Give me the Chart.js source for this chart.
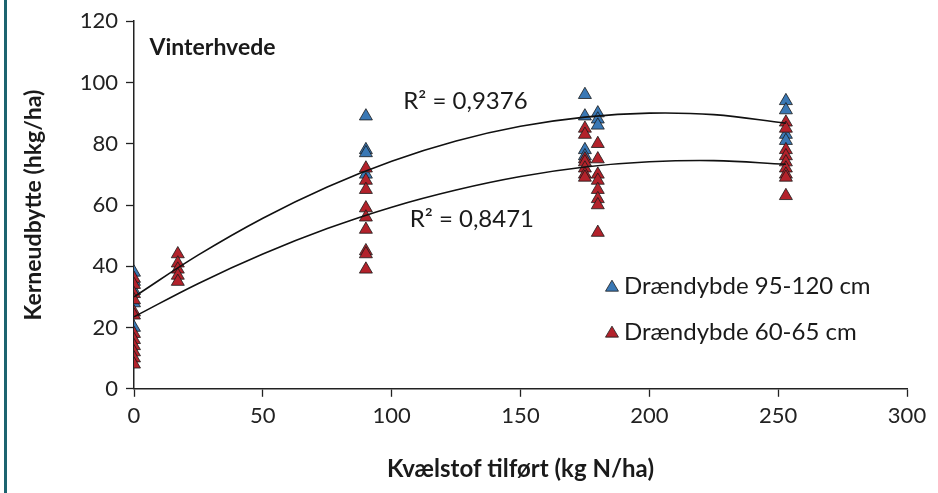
<!DOCTYPE html>
<html>
<head>
<meta charset="utf-8">
<script src="https://cdn.jsdelivr.net/npm/chart.js@4/dist/chart.umd.min.js"></script>
<style>
  html, body { margin: 0; padding: 0; background: #fff; }
  #wrap { position: relative; width: 938px; height: 493px; }
  #bar { position: absolute; left: 4px; top: 0; width: 3px; height: 493px; background: #1d6470; }
  canvas { position: absolute; left: 0; top: 0; }
</style>
</head>
<body>
<div id="wrap">
  <div id="bar"></div>
  <canvas id="c" width="938" height="493"></canvas>
</div>
<script>
// ---- Data ----
const nRates = [0, 17, 90, 175, 180, 253];               // kg N/ha
const yieldDeep = [                                       // Drændybde 95-120 cm
  [38, 35, 32, 28, 20],
  [],
  [89, 78, 77, 70],
  [96, 89, 78, 76],
  [90, 88, 86],
  [94, 91, 83, 81]
];
const yieldShallow = [                                    // Drændybde 60-65 cm
  [36, 34, 31, 29, 25, 24, 18, 16, 14, 12, 10, 8],
  [44, 41, 39, 37, 35],
  [72, 68, 65, 59, 56, 52, 45, 44, 39],
  [85, 83, 75, 74, 72, 70, 69],
  [80, 75, 70, 68, 65, 62, 60, 51],
  [87, 85, 78, 76, 74, 72, 70, 69, 63]
];
const trendX       = [0, 25, 50, 75, 100, 125, 150, 175, 200, 225, 253];
const trendDeep    = [30, 43.7, 55.7, 65.9, 74.3, 80.9, 85.7, 88.7, 90.0, 89.5, 86.7];
const trendShallow = [23.5, 34.4, 44.0, 52.3, 59.3, 64.9, 69.3, 72.4, 74.1, 74.5, 73.3];
const seriesLabels = ['Drændybde 95-120 cm', 'Drændybde 60-65 cm'];
const r2Labels = ['R² = 0,9376', 'R² = 0,8471'];
const chartTitle = 'Vinterhvede';
const xTitle = 'Kvælstof tilført (kg N/ha)';
const yTitle = 'Kerneudbytte (hkg/ha)';

function toPoints(groups) {
  const pts = [];
  groups.forEach((vals, i) => vals.forEach(v => pts.push({ x: nRates[i], y: v })));
  return pts;
}
function curve(ys) { return trendX.map((x, i) => ({ x: x, y: ys[i] })); }

const BLUE = '#3a78b5', RED = '#b3222b', EDGE = '#1a1a1a';
const FONT = 'Lato, "Open Sans", sans-serif';

const annotations = {
  id: 'annotations',
  afterDatasetsDraw(chart) {
    const ctx = chart.ctx, xs = chart.scales.x, ys = chart.scales.y;
    ctx.save();
    ctx.fillStyle = '#1a1a1a';
    ctx.textBaseline = 'middle';
    ctx.textAlign = 'left';
    ctx.font = 'bold 23px ' + FONT;
    ctx.fillText(chartTitle, xs.getPixelForValue(6), ys.getPixelForValue(111.5));
    ctx.font = '24px ' + FONT;
    ctx.fillText(r2Labels[0], xs.getPixelForValue(104.5), ys.getPixelForValue(94));
    ctx.fillText(r2Labels[1], xs.getPixelForValue(107), ys.getPixelForValue(55.5));
    // legend
    const lx = xs.getPixelForValue(185.5);
    const rows = [ys.getPixelForValue(33.5), ys.getPixelForValue(18.5)];
    const cols = [BLUE, RED];
    rows.forEach((py, i) => {
      ctx.beginPath();
      ctx.moveTo(lx, py - 6);
      ctx.lineTo(lx + 6.5, py + 5);
      ctx.lineTo(lx - 6.5, py + 5);
      ctx.closePath();
      ctx.fillStyle = cols[i];
      ctx.fill();
      ctx.lineWidth = 0.8;
      ctx.strokeStyle = EDGE;
      ctx.stroke();
      ctx.fillStyle = '#1a1a1a';
      ctx.fillText(seriesLabels[i], lx + 12, py);
    });
    ctx.restore();
  }
};

new Chart(document.getElementById('c'), {
  type: 'scatter',
  data: {
    datasets: [
      { label: 'trend1', data: curve(trendDeep), showLine: true, pointRadius: 0,
        borderColor: '#111', borderWidth: 1.6, tension: 0.4, fill: false, order: 0 },
      { label: 'trend2', data: curve(trendShallow), showLine: true, pointRadius: 0,
        borderColor: '#111', borderWidth: 1.6, tension: 0.4, fill: false, order: 0 },
      { label: seriesLabels[1], data: toPoints(yieldShallow), pointStyle: 'triangle',
        pointRadius: 7.5, backgroundColor: RED, borderColor: EDGE, borderWidth: 0.8, order: 1 },
      { label: seriesLabels[0], data: toPoints(yieldDeep), pointStyle: 'triangle',
        pointRadius: 7.5, backgroundColor: BLUE, borderColor: EDGE, borderWidth: 0.8, order: 2 }
    ]
  },
  options: {
    responsive: false,
    animation: false,
    events: [],
    layout: { padding: { left: 20, right: 31, top: 20, bottom: 9 } },
    plugins: { legend: { display: false }, tooltip: { enabled: false } },
    scales: {
      x: {
        type: 'linear', min: 0, max: 300,
        ticks: { stepSize: 50, color: '#222', font: { family: FONT, size: 22 }, padding: 6 },
        grid: { drawOnChartArea: false, color: '#222', tickLength: 8, tickWidth: 1.3 },
        border: { display: true, color: '#222', width: 1.5 },
        title: { display: true, text: xTitle, color: '#1a1a1a',
                 font: { family: FONT, size: 24, weight: 'bold' }, padding: { top: 20, bottom: 0 } }
      },
      y: {
        type: 'linear', min: 0, max: 120,
        afterFit(s) { s.width = 114; },
        ticks: { stepSize: 20, color: '#222', font: { family: FONT, size: 22 }, padding: 8 },
        grid: { drawOnChartArea: false, color: '#222', tickLength: 8, tickWidth: 1.3 },
        border: { display: true, color: '#222', width: 1.5 },
        title: { display: true, text: yTitle, color: '#1a1a1a',
                 font: { family: FONT, size: 23, weight: 'bold' }, padding: { top: 0, bottom: 0 } }
      }
    }
  },
  plugins: [annotations]
});
</script>
</body>
</html>
